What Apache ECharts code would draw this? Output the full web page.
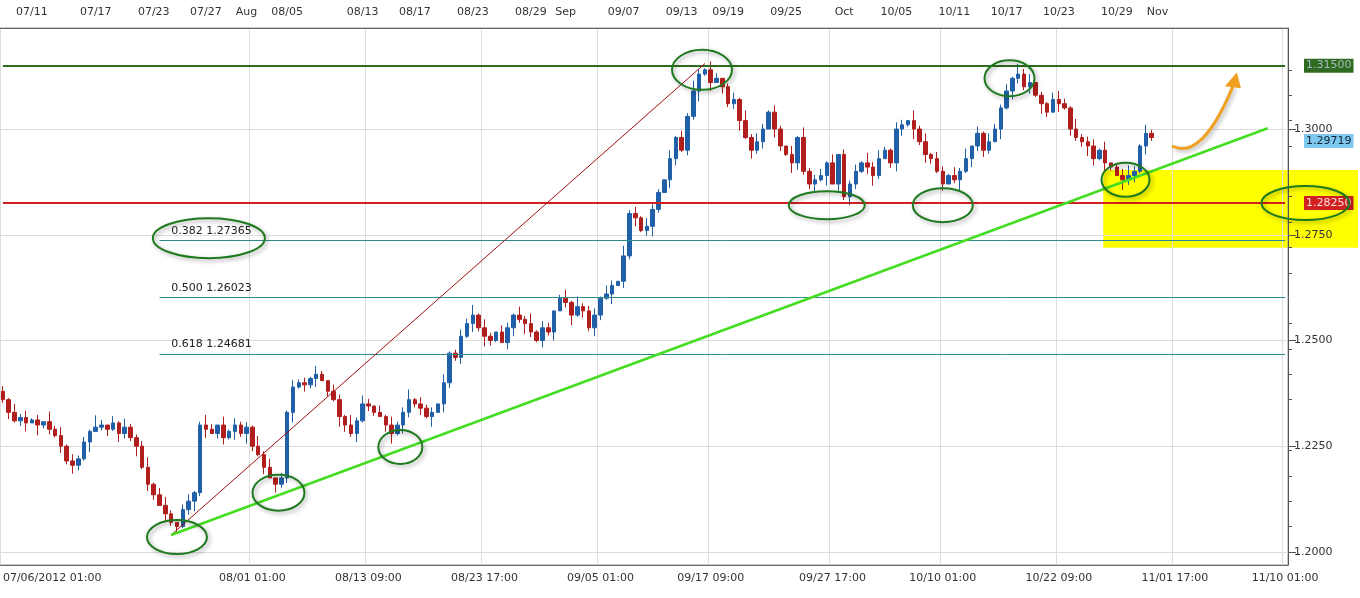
<!DOCTYPE html><html><head><meta charset="utf-8"><script src="https://cdn.jsdelivr.net/npm/echarts@6/dist/echarts.min.js"></script>
<style>html,body{margin:0;background:#fff}#c{width:1360px;height:598px}</style></head><body><div id="c"></div><script>
// closes in pips: 1.xxxx
const closes=[2360,2330,2310,2318,2305,2312,2300,2308,2290,2275,2250,2215,2205,2220,2260,2285,2295,2300,2290,2305,2280,2295,2270,2250,2200,2160,2135,2110,2090,2070,2060,2100,2120,2140,2300,2290,2280,2300,2270,2285,2300,2280,2295,2250,2230,2200,2175,2160,2175,2330,2390,2400,2395,2410,2420,2405,2380,2360,2320,2300,2280,2310,2350,2345,2330,2320,2300,2280,2300,2330,2360,2350,2340,2320,2330,2350,2400,2470,2460,2510,2540,2560,2530,2510,2500,2520,2495,2530,2560,2550,2540,2520,2500,2530,2520,2570,2600,2590,2560,2580,2570,2530,2560,2600,2610,2630,2640,2700,2800,2790,2760,2770,2810,2850,2880,2930,2980,2950,3030,3090,3130,3140,3110,3120,3100,3060,3070,3020,2980,2950,2970,3000,3040,3000,2960,2940,2920,2980,2900,2870,2880,2890,2920,2870,2940,2840,2870,2900,2920,2910,2890,2930,2950,2920,3000,3010,3020,3000,2970,2940,2930,2900,2870,2890,2880,2900,2930,2960,2990,2950,2970,3000,3050,3090,3120,3130,3100,3110,3080,3060,3040,3070,3060,3050,3000,2980,2970,2960,2930,2950,2920,2910,2890,2880,2890,2900,2960,2990,2980,2960,2972];
const wickUp="3152413062514231730415223614520341263051423162503142315204316253041523614230512436152043152614302516234153062415320514263153024162531420516234150324163521430625143152604153241635021453162341502463152";
const wickDn="2413506231425316024153261430524136250341526314052361425031642513204615324160532415263104526314250361425316042513620541326150423615240531642351604253146203541625314026153420615324163051423641520634152";
const bottomLabels=[[0,'07/06/2012 01:00'],[43,'08/01 01:00'],[63,'08/13 09:00'],[83,'08/23 17:00'],[103,'09/05 01:00'],[122,'09/17 09:00'],[143,'09/27 17:00'],[162,'10/10 01:00'],[182,'10/22 09:00'],[202,'11/01 17:00'],[221,'11/10 01:00']];
const topLabels=[[5,'07/11'],[16,'07/17'],[26,'07/23'],[35,'07/27'],[42,'Aug'],[49,'08/05'],[62,'08/13'],[71,'08/17'],[81,'08/23'],[91,'08/29'],[97,'Sep'],[107,'09/07'],[117,'09/13'],[125,'09/19'],[135,'09/25'],[145,'Oct'],[154,'10/05'],[164,'10/11'],[173,'10/17'],[182,'10/23'],[192,'10/29'],[199,'Nov']];
const yTicks=[1.2,1.225,1.25,1.275,1.3];
const levels=[[1.3150,'1.31500','#2e6b1e','#a9b8c8',true],[1.2825,'1.28250','#d02020','#fde0e0',true],[1.29719,'1.29719','#7ec8f0','#123',false]];
const NSLOTS=222;
const cats=[];for(let i=0;i<NSLOTS;i++)cats.push(String(i));
const bl={},tl={};bottomLabels.forEach(a=>bl[a[0]]=a[1]);topLabels.forEach(a=>tl[a[0]]=a[1]);
const ohlc=closes.map((c,i)=>{const o=i?closes[i-1]:2380;const hi=Math.max(o,c)+(+wickUp[i])*4;const lo=Math.min(o,c)-(+wickDn[i])*4;return [1+o/1e4,1+c/1e4,1+lo/1e4,1+hi/1e4];});
const chart=echarts.init(document.getElementById('c'));
const lineCol='#2e8b8b';
const fib=[[0.382,1.27365],[0.500,1.26023],[0.618,1.24681]];
chart.setOption({animation:false,backgroundColor:'#fff',
grid:{left:0,right:72,top:28,bottom:33,show:true,borderColor:'#999',containLabel:false,outerBoundsMode:'none'},
xAxis:[{type:'category',data:cats,boundaryGap:true,axisLine:{lineStyle:{color:'#666'}},
 axisTick:{interval:(i)=>bl[i]!==undefined||i%5==0,length:5,lineStyle:{color:'#666'}},
 axisLabel:{interval:(i)=>bl[i]!==undefined,formatter:(v)=>bl[v]||'',color:'#333',fontSize:11,fontFamily:'Verdana, DejaVu Sans',margin:8,hideOverlap:false,alignMinLabel:'left'},
 splitLine:{show:true,interval:(i)=>bl[i]!==undefined,lineStyle:{color:'#ddd'}}},
 {type:'category',data:cats,position:'top',boundaryGap:true,axisLine:{show:true,lineStyle:{color:'#666'}},
 axisTick:{interval:(i)=>i%2==0,length:6,inside:true,lineStyle:{color:'#666'}},
 axisLabel:{interval:(i)=>tl[i]!==undefined,formatter:(v)=>tl[v]||'',color:'#333',fontSize:11,fontFamily:'Verdana, DejaVu Sans',margin:10,hideOverlap:false}}],
yAxis:{type:'value',position:'right',min:1.1969,max:1.3239,scale:true,
 axisLine:{show:true,lineStyle:{color:'#555'}},
 axisTick:{show:true,customValues:yTicks,length:8,inside:false},
 minorTick:{show:true,splitNumber:5,length:4},
 axisLabel:{customValues:yTicks,formatter:v=>v.toFixed(4),color:'#333',fontSize:11,fontFamily:'Verdana, DejaVu Sans',margin:6},
 splitLine:{show:true,lineStyle:{color:'#ddd'}}},
series:[{type:'candlestick',data:ohlc,barWidth:4,
 itemStyle:{color:'#2060a8',color0:'#b01e1e',borderColor:'#2060a8',borderColor0:'#b01e1e'},
 markLine:{symbol:'none',silent:true,animation:false,data:[
  ...levels.filter(l=>l[4]).map(l=>[{coord:[0,l[0]],lineStyle:{color:l[2],width:2,type:'solid'},label:{show:false}},{coord:[221,l[0]]}]),
  ...fib.map(f=>[{coord:[27,f[1]],lineStyle:{color:lineCol,width:1,type:'solid'},label:{show:false}},{coord:[221,f[1]]}]),
  [{coord:[29,1.2040],lineStyle:{color:'#a01010',width:1,type:'solid'},label:{show:false}},{coord:[121,1.3155]}],
  [{coord:[29,1.2040],lineStyle:{color:'#44dd22',width:2.5,type:'solid'},label:{show:false}},{coord:[218,1.3002]}]
 ]}}]
});
function P(i,v){const a=chart.convertToPixel({xAxisIndex:0,yAxisIndex:0},[Math.floor(i),v]);const b=chart.convertToPixel({xAxisIndex:0,yAxisIndex:0},[Math.floor(i)+1,v]);const f=i-Math.floor(i);return [a[0]+(b[0]-a[0])*f,a[1]];}
const ells=[[30,1.2035,30,17],[47.5,1.2140,26,18],[68.5,1.2248,22,17],[120.5,1.3140,30,20],[142,1.2820,38,14],[162,1.2820,30,17],[173.5,1.3120,25,18],[193.5,1.2880,24,17],[224.5,1.2825,44,17],[35.5,1.2742,56,20]];
const g=[];
const y1=P(190,1.2903),y2=P(190,1.2719);
g.push({type:'rect',shape:{x:y1[0]-2,y:y1[1],width:1360-y1[0],height:y2[1]-y1[1]},style:{fill:'#ffff00'},z:-1});
levels.forEach(l=>{const c=P(0,l[0]);g.push({type:'text',x:1304,y:c[1],style:{text:l[1],fill:l[3],backgroundColor:l[2],padding:[2,2,1,2],font:'11px Verdana, DejaVu Sans',textVerticalAlign:'middle'},z:120});});
ells.forEach(e=>{const c=P(e[0],e[1]);g.push({type:'ellipse',shape:{cx:c[0],cy:c[1],rx:e[2],ry:e[3]},style:{fill:'none',stroke:'#1e7a1e',lineWidth:2,shadowBlur:4,shadowColor:'rgba(0,0,0,0.35)',shadowOffsetX:2,shadowOffsetY:2},z:130});});
fib.forEach(f=>{const c=P(29,f[1]);g.push({type:'text',style:{x:c[0],y:c[1]-4,text:f[0].toFixed(3)+' '+f[1].toFixed(5),fill:'#222',font:'11px Verdana, DejaVu Sans',textVerticalAlign:'bottom'},z:101});});
const a0=P(201.5,1.2960),a1=P(212,1.3120);
g.push({type:'bezierCurve',shape:{x1:a0[0],y1:a0[1],x2:a1[0],y2:a1[1]+8,cpx1:a0[0]+30,cpy1:a0[1]+15},style:{stroke:'#f0a020',lineWidth:3,fill:'none',shadowBlur:4,shadowColor:'rgba(0,0,0,0.3)',shadowOffsetX:2,shadowOffsetY:2},z:100});
g.push({type:'polygon',shape:{points:[[a1[0]-8,a1[1]+8],[a1[0]+8,a1[1]+10],[a1[0]+4,a1[1]-6]]},style:{fill:'#f0a020'},z:100});
chart.setOption({graphic:g});
</script></body></html>
